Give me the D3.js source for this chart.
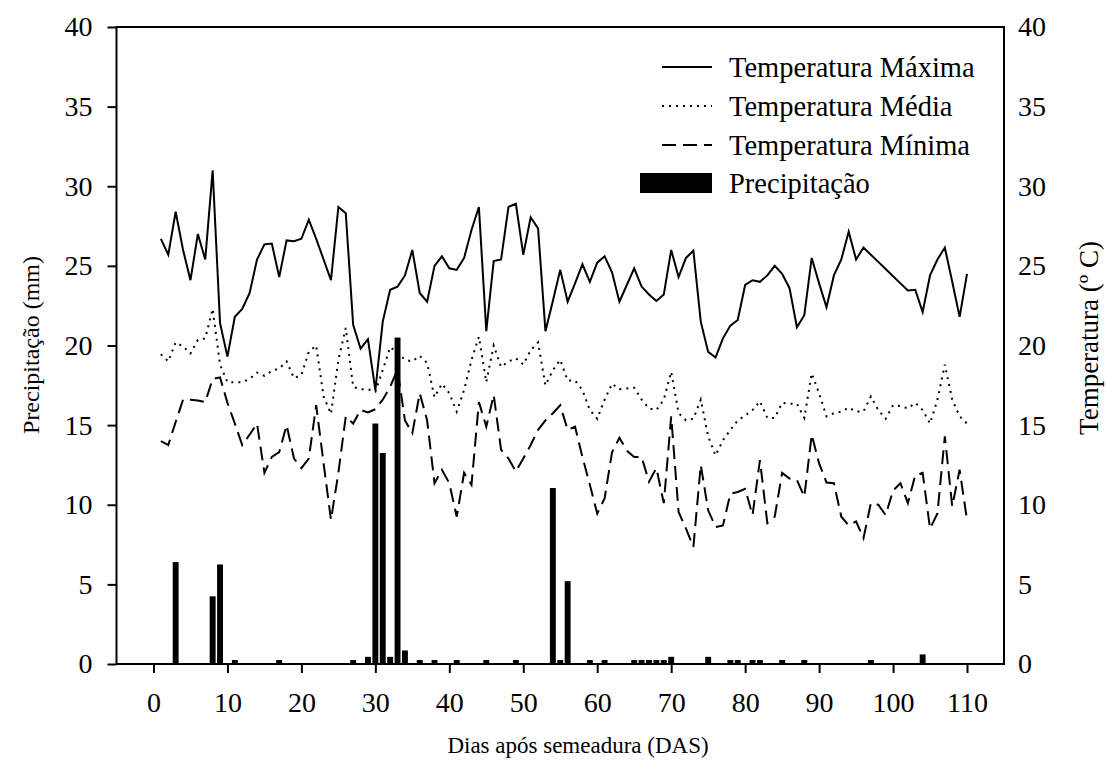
<!DOCTYPE html>
<html><head><meta charset="utf-8">
<script src="https://cdn.jsdelivr.net/npm/d3@7"></script>
<style>body{margin:0;background:#fff}</style>
</head><body>
<svg id="c" width="1106" height="778"></svg>
<script>
const days = d3.range(1, 111);
const tMax = [26.7,25.7,28.4,26.0,24.1,27.0,25.4,31.0,21.4,19.3,
21.8,22.3,23.3,25.4,26.35,26.4,24.3,26.6,26.55,26.7,
27.9,26.7,25.4,24.1,28.7,28.3,21.3,19.8,20.4,17.2,
21.5,23.5,23.7,24.4,26.0,23.3,22.75,25.0,25.6,24.85,
24.75,25.5,27.25,28.7,20.9,25.3,25.4,28.7,28.9,25.7,
28.05,27.35,20.9,22.8,24.75,22.75,23.9,25.1,24.0,25.2,
25.6,24.6,22.75,23.8,24.85,23.7,23.2,22.8,23.2,26.0,
24.3,25.5,25.95,21.5,19.6,19.25,20.45,21.25,21.6,23.8,
24.1,24.0,24.4,25.0,24.5,23.6,21.15,21.9,25.5,23.9,
22.4,24.4,25.4,27.15,25.4,26.15,25.7,25.25,24.8,24.35,
23.9,23.45,23.5,22.1,24.4,25.4,26.15,24.0,21.8,24.5];
const tMed = [19.45,19.0,20.2,19.95,19.5,20.35,20.45,22.3,18.8,17.7,
17.7,17.7,17.9,18.3,18.1,18.4,18.55,19.0,17.95,18.15,
19.6,20.0,16.8,15.7,19.1,21.1,17.4,17.25,17.25,17.1,
18.45,19.9,19.55,19.1,19.0,19.35,18.9,16.75,17.6,17.0,
15.85,17.2,19.1,20.55,17.7,20.0,18.65,19.0,19.2,18.8,
19.7,20.2,17.5,18.45,19.1,17.8,17.8,17.2,15.95,15.4,
16.6,17.6,17.25,17.3,17.35,16.6,16.05,15.95,16.6,18.35,
15.75,15.3,15.4,16.6,14.3,13.1,14.05,14.7,15.3,15.6,
15.95,16.5,15.45,15.45,16.4,16.35,16.35,15.45,18.25,17.0,
15.55,15.75,15.85,16.1,15.85,15.85,16.8,15.95,15.4,16.25,
16.2,16.05,16.4,15.95,15.1,16.6,18.8,16.6,15.55,15.1];
const tMin = [14.0,13.75,15.2,16.6,16.6,16.55,16.45,17.9,18.0,16.4,
15.1,13.75,14.4,15.1,12.0,13.0,13.3,15.0,12.9,12.3,
12.9,16.25,12.6,9.05,12.0,15.55,15.1,15.95,15.8,16.0,
16.6,17.4,18.5,15.3,14.5,17.0,15.3,11.35,12.2,11.35,
9.25,12.0,11.25,16.45,14.9,16.9,13.45,12.9,12.1,12.9,
13.75,14.7,15.3,15.75,16.25,14.7,14.9,13.0,11.25,9.45,
10.4,13.3,14.2,13.4,13.0,13.0,11.45,12.3,10.1,15.55,
9.55,8.5,7.35,12.5,9.65,8.6,8.7,10.7,10.8,11.0,
9.35,12.8,8.85,9.25,12.0,11.65,11.55,10.5,14.4,12.6,
11.4,11.35,9.25,8.7,8.95,7.9,10.1,10.0,9.35,10.9,
11.35,10.1,11.85,12.0,8.5,9.45,14.3,9.9,12.2,9.05];
const precipDays = [3,8,9,11,17,27,29,30,31,32,33,34,36,38,41,45,49,54,55,56,59,61,65,66,67,68,69,70,75,78,79,81,82,85,88,97,104];
const precipValues = [6.4,4.25,6.25,0.25,0.25,0.25,0.45,15.1,13.25,0.45,20.5,0.85,0.25,0.25,0.25,0.25,0.25,11.05,0.25,5.2,0.25,0.25,0.25,0.25,0.25,0.25,0.25,0.45,0.45,0.25,0.25,0.25,0.25,0.25,0.25,0.25,0.6];
const xTicks = [0,10,20,30,40,50,60,70,80,90,100,110];
const yTicks = [0,5,10,15,20,25,30,35,40];
const legendLabels = ["Temperatura Máxima","Temperatura Média","Temperatura Mínima","Precipitação"];

const FONT = "'Liberation Serif','Times New Roman',serif";
const svg = d3.select("#c");
const L = 116.5, R = 1004, T = 27, B = 664;
const x = d3.scaleLinear().domain([-5, 115]).range([L, R]);
const yP = d3.scaleLinear().domain([0, 40]).range([B, T]);
const yT = d3.scaleLinear().domain([0, 40]).range([B, T]);

// bars
const bw = (x(1) - x(0)) * 0.8;
svg.append("g").selectAll("rect").data(precipDays.map((d,i)=>({d, v:precipValues[i]})))
  .join("rect")
  .attr("x", p => x(p.d) - bw/2).attr("width", bw)
  .attr("y", p => yP(p.v)).attr("height", p => B - yP(p.v))
  .attr("fill", "#000");

const line = arr => d3.line().x((v,i)=>x(days[i])).y(v=>yT(v))(arr);
svg.append("path").attr("d", line(tMax)).attr("fill","none").attr("stroke","#000").attr("stroke-width",2);
svg.append("path").attr("d", line(tMed)).attr("fill","none").attr("stroke","#000").attr("stroke-width",2).attr("stroke-dasharray","2,5");
svg.append("path").attr("d", line(tMin)).attr("fill","none").attr("stroke","#000").attr("stroke-width",2).attr("stroke-dasharray","14,7");

// frame
svg.append("rect").attr("x",L).attr("y",T).attr("width",R-L).attr("height",B-T)
  .attr("fill","none").attr("stroke","#000").attr("stroke-width",2);

const styleAxis = g => {
  g.select(".domain").remove();
  g.selectAll("line").attr("stroke","#000").attr("stroke-width",2);
  g.selectAll("text").attr("font-family",FONT).attr("font-size",28).attr("fill","#000");
};
svg.append("g").attr("transform",`translate(${L},0)`)
  .call(d3.axisLeft(yP).tickValues(yTicks).tickSize(9).tickPadding(15)).call(styleAxis);
svg.append("g").attr("transform",`translate(${R},0)`)
  .call(d3.axisRight(yT).tickValues(yTicks).tickSize(0).tickPadding(14)).call(styleAxis);
svg.append("g").attr("transform",`translate(0,${B})`)
  .call(d3.axisBottom(x).tickValues(xTicks).tickSize(9).tickPadding(19)).call(styleAxis);

// titles
svg.append("text").attr("x",578).attr("y",753).attr("text-anchor","middle")
  .attr("font-family",FONT).attr("font-size",23).text("Dias após semeadura (DAS)");
svg.append("text").attr("transform","translate(39,345) rotate(-90)").attr("text-anchor","middle")
  .attr("font-family",FONT).attr("font-size",24).text("Precipitação (mm)");
svg.append("text").attr("transform","translate(1098,338) rotate(-90)").attr("text-anchor","middle")
  .attr("font-family",FONT).attr("font-size",27).text("Temperatura (º C)");

// legend
const lg = svg.append("g");
const rowsY = [67,106,145,183];
const dashes = [null,"2,5","14,7"];
[0,1,2].forEach(i=>{
  lg.append("line").attr("x1",662).attr("x2",712).attr("y1",rowsY[i]).attr("y2",rowsY[i])
    .attr("stroke","#000").attr("stroke-width",2).attr("stroke-dasharray",dashes[i]);
});
lg.append("rect").attr("x",640).attr("y",rowsY[3]-10).attr("width",72).attr("height",20).attr("fill","#000");
legendLabels.forEach((t,i)=>{
  lg.append("text").attr("x",729).attr("y",rowsY[i]).attr("dy","0.35em")
    .attr("font-family",FONT).attr("font-size",28.5).text(t);
});
</script>
</body></html>
